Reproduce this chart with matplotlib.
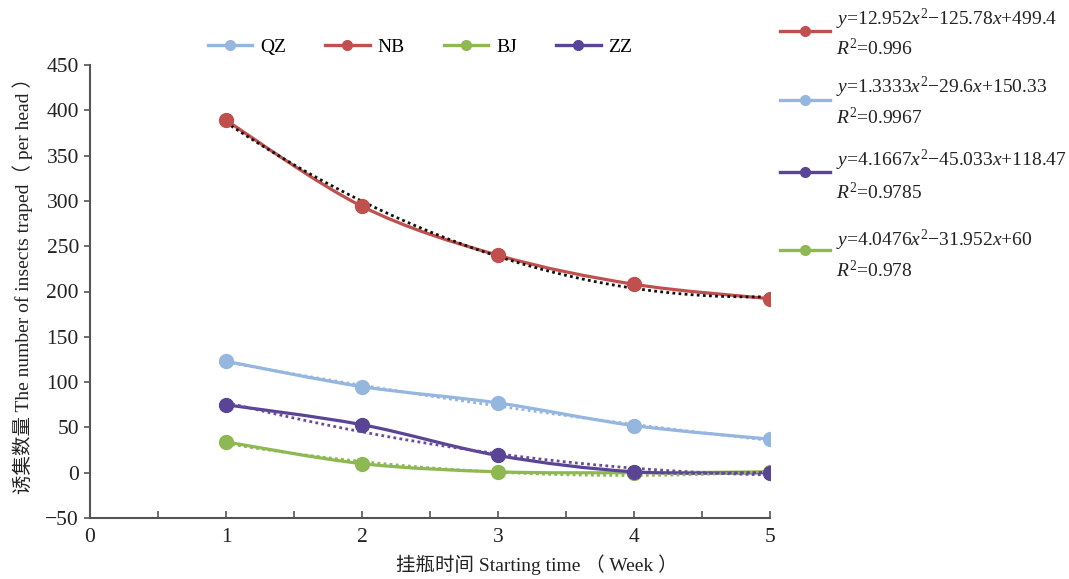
import numpy as np
import matplotlib
matplotlib.use("Agg")
import matplotlib.pyplot as plt
from matplotlib.path import Path
from matplotlib.patches import PathPatch
from matplotlib.lines import Line2D

plt.rcParams['font.family'] = ['Liberation Serif', 'Noto Sans CJK SC']
plt.rcParams['mathtext.fontset'] = 'custom'
plt.rcParams['mathtext.rm'] = 'Liberation Serif'
plt.rcParams['mathtext.it'] = 'Liberation Serif:italic'

weeks = [1, 2, 3, 4, 5]
series_names = ['QZ', 'NB', 'BJ', 'ZZ']
qz = [123, 95, 77, 52, 37]
nb = [389, 294, 240, 208, 192]
bj = [34, 10, 1, 0, 1]
zz = [75, 53, 19, 1, 0]
colors = {'QZ': '#95B6DE', 'NB': '#C0504D', 'BJ': '#8DB852', 'ZZ': '#5A4496'}
trend_colors = {'QZ': '#95B6DE', 'NB': '#111111', 'BJ': '#8DB852', 'ZZ': '#6A4A9A'}
# quadratic trendline coefficients (a, b, c) as printed
coef_nb = [12.952, -125.78, 499.4]
coef_qz = [1.3333, -29.6, 150.33]
coef_zz = [4.1667, -45.033, 118.47]
coef_bj = [4.0476, -31.952, 60]
eq_labels = ['$y$=12.952$x^2$−125.78$x$+499.4', '$y$=1.3333$x^2$−29.6$x$+150.33',
             '$y$=4.1667$x^2$−45.033$x$+118.47', '$y$=4.0476$x^2$−31.952$x$+60']
r2_labels = ['$R^2$=0.996', '$R^2$=0.9967', '$R^2$=0.9785', '$R^2$=0.978']
eq_order = ['NB', 'QZ', 'ZZ', 'BJ']

data = {'QZ': qz, 'NB': nb, 'BJ': bj, 'ZZ': zz}
coefs = {'NB': coef_nb, 'QZ': coef_qz, 'ZZ': coef_zz, 'BJ': coef_bj}

W, H = 1069, 579
fig = plt.figure(figsize=(W / 100, H / 100), dpi=100)
ax = fig.add_axes([90 / W, 1 - 518 / H, (770 - 90) / W, (518 - 65) / H])


def smooth_path(x, y):
    pts = np.column_stack([x, y]).astype(float)
    n = len(pts)
    verts = [pts[0]]
    codes = [Path.MOVETO]
    for i in range(n - 1):
        p0 = pts[i - 1] if i > 0 else pts[i]
        p1 = pts[i]
        p2 = pts[i + 1]
        p3 = pts[i + 2] if i + 2 < n else pts[i + 1]
        c1 = p1 + (p2 - p0) / 6.0
        c2 = p2 - (p3 - p1) / 6.0
        verts += [c1, c2, p2]
        codes += [Path.CURVE4] * 3
    return Path(verts, codes)


# trendlines
xt = np.linspace(1, 5, 200)
for name in ['QZ', 'BJ', 'ZZ', 'NB']:
    ax.plot(xt, np.polyval(coefs[name], xt), linestyle=(0, (1, 1.2)),
            color=trend_colors[name], lw=2.0, zorder=3)

for name in ['QZ', 'BJ', 'ZZ', 'NB']:
    ax.add_patch(PathPatch(smooth_path(weeks, data[name]), fill=False,
                           edgecolor=colors[name], lw=2.3, zorder=2))
    ax.plot(weeks, data[name], 'o', color=colors[name], ms=10, zorder=4)

ax.set_xlim(0, 5)
ax.set_ylim(-50, 450)
ax.set_xticks([0, 1, 2, 3, 4, 5])
ax.set_xticks(np.arange(0.5, 5, 1.0), minor=True)
ax.set_yticks(np.arange(-50, 451, 50))
ax.set_yticklabels(['−50'] + [str(v) for v in range(0, 451, 50)])
for s in ['top', 'right']:
    ax.spines[s].set_visible(False)
for s in ['left', 'bottom']:
    ax.spines[s].set_color('#555555')
    ax.spines[s].set_linewidth(1.5)
ax.tick_params(axis='x', which='both', direction='in', length=5, width=1.2,
               colors='#555555', labelcolor='#222222', labelsize=15.5, pad=7)
ax.tick_params(axis='y', direction='out', length=4, width=1.2,
               colors='#555555', labelcolor='#222222', labelsize=15.5, pad=4)

ax.set_xlabel('挂瓶时间 Starting time （ Week ）', fontsize=14, color='#222222')
ax.xaxis.set_label_coords((537 - 90) / 680, -(565 - 518) / 453)
ax.xaxis.label.set_va('center')
ax.set_ylabel('诱集数量 The number of insects traped（ per head ）', fontsize=14,
              color='#222222')
ax.yaxis.set_label_coords(-(90 - 23) / 680, (518 - 281) / 453)
ax.yaxis.label.set_va('center')

handles = [Line2D([], [], color=colors[n], lw=2.4, marker='o', ms=7) for n in series_names]
fig.legend(handles, series_names, loc='center', bbox_to_anchor=(420 / W, 1 - 47 / H),
           ncol=4, frameon=False, fontsize=14, handlelength=2.3, columnspacing=2.0,
           handletextpad=0.4)

eq_y = [19, 87, 160, 240]
r2_y = [48, 117, 192, 271]
hnd_y = [31, 100, 172, 250]
for k, name in enumerate(eq_order):
    hy = 1 - hnd_y[k] / H
    fig.add_artist(Line2D([780 / W, 830 / W], [hy, hy], color=colors[name], lw=2.4,
                          transform=fig.transFigure))
    fig.add_artist(Line2D([805 / W], [hy], color=colors[name], marker='o', ms=7,
                          linestyle='none', transform=fig.transFigure))
    fig.text(836 / W, 1 - eq_y[k] / H, eq_labels[k], fontsize=14, va='center',
             ha='left', color='#222222')
    fig.text(836 / W, 1 - r2_y[k] / H, r2_labels[k], fontsize=14, va='center',
             ha='left', color='#222222')

fig.savefig('out.png', dpi=100)
